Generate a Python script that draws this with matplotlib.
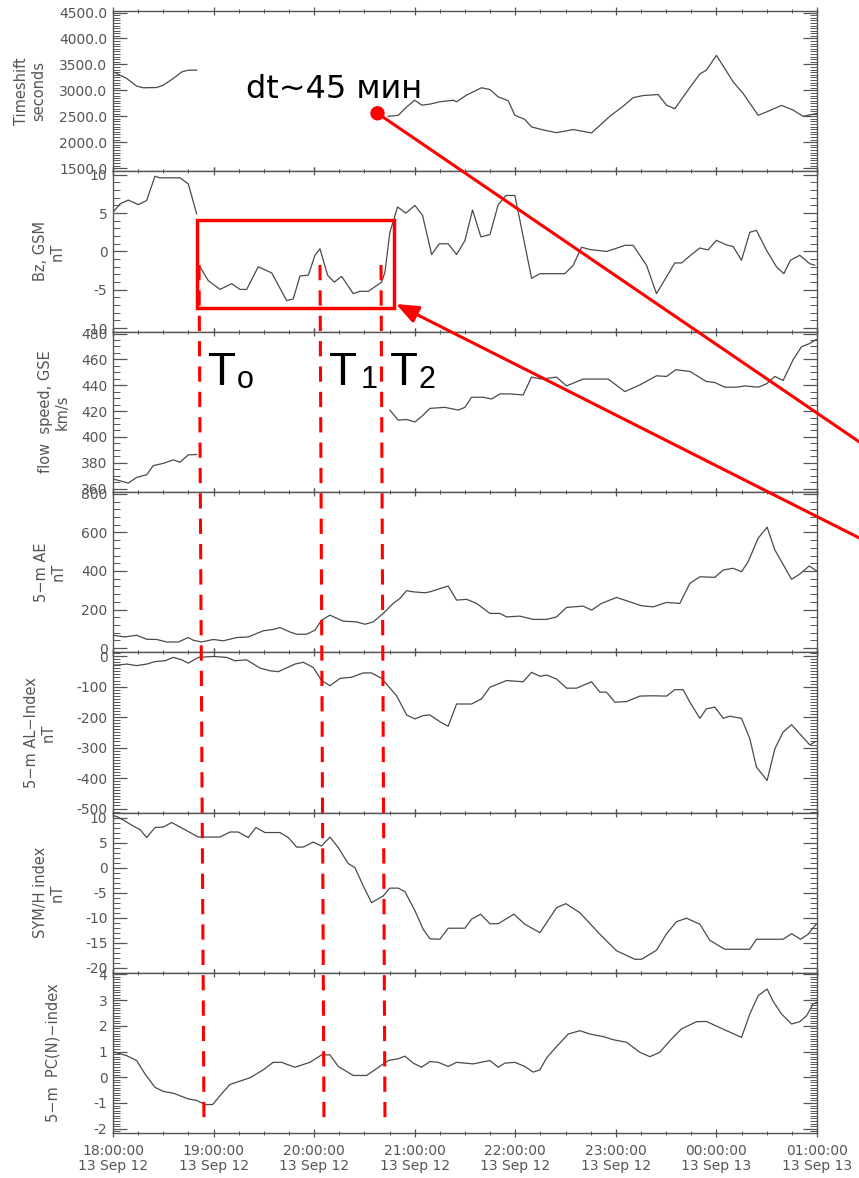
import numpy as np
import matplotlib
matplotlib.use("Agg")
import matplotlib.pyplot as plt
from matplotlib.ticker import MultipleLocator, FormatStrFormatter
from matplotlib.patches import Rectangle, Circle, FancyArrowPatch

nan = np.nan

# ---------------- data (time in hours after 18:00 UT, 13 Sep 2012) ----------------
ts_t = [0.0, 0.136, 0.235, 0.30, 0.434, 0.50, 0.60, 0.683, 0.749, 0.832, 0.84,
        2.737, 2.836, 2.92, 3.0, 3.07, 3.151, 3.25, 3.383, 3.416, 3.516, 3.665, 3.748,
        3.83, 3.93, 3.996, 4.095, 4.162, 4.294, 4.41, 4.576, 4.675, 4.758, 4.94, 5.073,
        5.172, 5.27, 5.42, 5.504, 5.586, 5.736, 5.835, 5.9, 6.0, 6.166, 6.266, 6.415,
        6.498, 6.647, 6.763, 6.862, 6.995]
ts_v = [3360, 3230, 3082, 3050, 3055, 3100, 3230, 3355, 3390, 3390, nan,
        2500, 2520, 2680, 2810, 2715, 2735, 2780, 2810, 2780, 2910, 3050, 3015,
        2875, 2800, 2520, 2440, 2295, 2230, 2185, 2245, 2210, 2180, 2500, 2695,
        2860, 2900, 2920, 2715, 2645, 3055, 3315, 3390, 3675, 3165, 2940, 2520,
        2585, 2710, 2620, 2500, 2555]

bz_t = [0.0, 0.07, 0.152, 0.252, 0.335, 0.417, 0.467, 0.666, 0.749, 0.832, 0.85, 0.865,
        0.947, 1.064, 1.18, 1.262, 1.329, 1.444, 1.578, 1.727, 1.792, 1.859, 1.942,
        2.008, 2.058, 2.134, 2.2, 2.273, 2.389, 2.455, 2.538, 2.671, 2.704, 2.753,
        2.83, 2.912, 3.002, 3.078, 3.168, 3.244, 3.333, 3.416, 3.499, 3.575, 3.658,
        3.748, 3.83, 3.907, 3.996, 4.162, 4.245, 4.493, 4.576, 4.659, 4.742, 4.908,
        4.99, 5.09, 5.172, 5.305, 5.404, 5.586, 5.653, 5.752, 5.835, 5.917, 6.0,
        6.1, 6.166, 6.249, 6.332, 6.398, 6.498, 6.597, 6.67, 6.736, 6.829, 6.928, 6.978]
bz_v = [5.1, 6.2, 6.7, 6.1, 6.65, 9.8, 9.6, 9.6, 8.8, 4.9, nan, -2.0,
        -3.8, -4.95, -4.2, -4.95, -4.95, -2.0, -2.8, -6.4, -6.2, -3.2, -3.1,
        -0.5, 0.35, -3.1, -4.0, -3.25, -5.5, -5.2, -5.2, -4.0, -2.7, 2.5,
        5.8, 5.0, 6.0, 4.7, -0.4, 1.0, 1.0, -0.4, 1.4, 5.4, 1.9,
        2.2, 6.1, 7.3, 7.3, -3.5, -2.9, -2.9, -1.8, 0.55, 0.25, 0.0,
        0.35, 0.8, 0.8, -1.8, -5.5, -1.5, -1.5, -0.4, 0.45, 0.2, 1.45,
        0.85, 0.65, -1.15, 2.5, 2.75, 0.15, -2.0, -2.9, -1.15, -0.5, -1.6, -1.8]

vf_t = [0.0, 0.07, 0.152, 0.235, 0.335, 0.4, 0.5, 0.6, 0.666, 0.749, 0.832, 0.84,
        2.753, 2.836, 2.92, 3.002, 3.084, 3.151, 3.3, 3.432, 3.499, 3.565, 3.68,
        3.764, 3.847, 3.946, 4.078, 4.162, 4.26, 4.41, 4.51, 4.675, 4.923, 5.09,
        5.239, 5.404, 5.504, 5.596, 5.736, 5.9, 5.984, 6.083, 6.2, 6.282, 6.415,
        6.498, 6.581, 6.663, 6.763, 6.846, 6.928, 6.995]
vf_v = [367.4, 366.1, 364.3, 368.7, 370.8, 377.8, 379.6, 382.3, 380.4, 386.2, 386.4, nan,
        420.8, 413.0, 413.5, 411.6, 416.9, 422.1, 422.9, 420.8, 422.9, 430.7, 430.7,
        429.4, 433.3, 433.3, 432.5, 446.3, 444.8, 446.3, 439.5, 444.8, 444.8, 435.1,
        440.3, 447.3, 446.8, 452.0, 450.7, 442.9, 442.1, 438.5, 438.5, 439.5, 438.5,
        441.1, 446.8, 443.7, 459.8, 469.8, 472.3, 475.5]

ae_t = [0.0, 0.119, 0.235, 0.335, 0.434, 0.534, 0.65, 0.749, 0.799, 0.88, 0.997,
        1.096, 1.23, 1.345, 1.494, 1.593, 1.66, 1.759, 1.826, 1.925, 2.008, 2.074,
        2.157, 2.289, 2.422, 2.505, 2.588, 2.687, 2.786, 2.853, 2.92, 2.985, 3.101,
        3.151, 3.333, 3.416, 3.516, 3.615, 3.748, 3.847, 3.913, 4.045, 4.178, 4.311,
        4.41, 4.51, 4.675, 4.758, 4.858, 5.007, 5.139, 5.255, 5.371, 5.504, 5.636,
        5.736, 5.835, 5.984, 6.067, 6.166, 6.249, 6.315, 6.415, 6.504, 6.581, 6.747,
        6.829, 6.922, 6.995]
ae_v = [67, 58, 67, 46, 45, 32, 32, 55, 41, 32, 45,
        38, 55, 58, 90, 97, 107, 84, 72, 72, 93, 145,
        171, 140, 136, 124, 136, 180, 232, 258, 298, 292, 287,
        292, 322, 249, 253, 232, 180, 180, 162, 166, 149, 149,
        162, 211, 218, 197, 232, 263, 240, 220, 214, 237, 232,
        336, 370, 367, 405, 414, 396, 448, 570, 627, 509, 357,
        384, 426, 401]

al_t = [0.0, 0.05, 0.136, 0.235, 0.335, 0.417, 0.517, 0.6, 0.683, 0.749, 0.848,
        0.997, 1.13, 1.213, 1.329, 1.461, 1.561, 1.643, 1.809, 1.892, 1.991, 2.074,
        2.157, 2.257, 2.373, 2.488, 2.571, 2.671, 2.82, 2.92, 3.002, 3.084, 3.151,
        3.25, 3.333, 3.416, 3.565, 3.665, 3.748, 3.913, 4.078, 4.162, 4.245, 4.311,
        4.41, 4.51, 4.61, 4.758, 4.841, 4.907, 4.99, 5.106, 5.239, 5.355, 5.504,
        5.586, 5.669, 5.736, 5.835, 5.9, 5.984, 6.067, 6.133, 6.249, 6.332, 6.398,
        6.504, 6.581, 6.663, 6.747, 6.829, 6.928, 6.978]
al_v = [-29, -29, -26, -31, -26, -18, -15, -4, -12, -23, -4,
        -1, -4, -15, -12, -39, -48, -51, -26, -20, -37, -80,
        -97, -73, -69, -55, -55, -73, -130, -193, -206, -195, -193,
        -215, -230, -157, -157, -140, -102, -80, -84, -53, -66, -62,
        -75, -105, -105, -84, -118, -118, -151, -149, -131, -130, -131,
        -110, -110, -151, -204, -173, -167, -204, -197, -204, -271, -364,
        -408, -304, -249, -225, -255, -291, -282]

sym_t = [0.0, 0.05, 0.119, 0.2, 0.268, 0.335, 0.417, 0.5, 0.583, 0.666, 0.749,
         0.848, 1.064, 1.163, 1.245, 1.345, 1.421, 1.511, 1.66, 1.743, 1.826, 1.892,
         1.991, 2.074, 2.157, 2.24, 2.339, 2.406, 2.488, 2.571, 2.687, 2.753, 2.836,
         2.903, 3.002, 3.084, 3.151, 3.25, 3.333, 3.499, 3.565, 3.655, 3.748, 3.83,
         3.986, 4.095, 4.245, 4.41, 4.503, 4.642, 4.841, 5.007, 5.189, 5.255, 5.404,
         5.504, 5.603, 5.703, 5.835, 5.934, 6.083, 6.332, 6.398, 6.663, 6.747, 6.836,
         6.912, 6.995]
sym_v = [10.4, 10.1, 9.3, 8.3, 7.6, 6.0, 8.0, 8.1, 9.0, 8.1, 7.2,
         6.1, 6.1, 7.1, 7.1, 6.0, 8.0, 7.0, 7.0, 6.0, 4.1, 4.1,
         5.1, 4.3, 6.1, 4.0, 0.8, 0.0, -3.65, -7.0, -5.65, -4.1, -4.1,
         -4.8, -8.6, -12.3, -14.2, -14.3, -12.1, -12.1, -10.3, -9.3, -11.2, -11.2,
         -9.3, -11.3, -13.0, -8.0, -7.2, -9.0, -13.3, -16.6, -18.3, -18.3, -16.5,
         -13.2, -10.8, -10.1, -11.3, -14.5, -16.3, -16.3, -14.3, -14.3, -13.2, -14.3,
         -13.3, -11.2]

pc_t = [0.0, 0.02, 0.136, 0.235, 0.318, 0.417, 0.5, 0.6, 0.749, 0.832, 0.915,
        0.991, 1.08, 1.163, 1.262, 1.362, 1.494, 1.593, 1.676, 1.809, 1.958, 2.074,
        2.157, 2.24, 2.389, 2.521, 2.604, 2.737, 2.836, 2.903, 2.985, 3.068, 3.151,
        3.234, 3.333, 3.416, 3.582, 3.748, 3.83, 3.897, 3.996, 4.095, 4.178, 4.245,
        4.311, 4.41, 4.526, 4.642, 4.742, 4.874, 4.973, 5.106, 5.239, 5.338, 5.437,
        5.537, 5.653, 5.802, 5.9, 6.05, 6.249, 6.332, 6.415, 6.504, 6.564, 6.647,
        6.747, 6.829, 6.896, 6.962, 6.995]
pc_v = [1.0, 0.97, 0.84, 0.65, 0.13, -0.39, -0.55, -0.62, -0.84, -0.90, -1.06,
        -1.06, -0.64, -0.28, -0.15, -0.02, 0.29, 0.58, 0.58, 0.39, 0.58, 0.87,
        0.87, 0.42, 0.07, 0.07, 0.29, 0.65, 0.72, 0.82, 0.55, 0.39, 0.61,
        0.58, 0.42, 0.58, 0.52, 0.65, 0.39, 0.55, 0.58, 0.42, 0.20, 0.29,
        0.75, 1.19, 1.68, 1.81, 1.68, 1.58, 1.46, 1.36, 0.97, 0.80, 0.97,
        1.42, 1.88, 2.16, 2.17, 1.90, 1.55, 2.46, 3.17, 3.43, 2.95, 2.46,
        2.07, 2.16, 2.39, 2.85, 2.91]

ylabels = ["Timeshift\nseconds", "Bz, GSM\nnT", "flow  speed, GSE\nkm/s",
           "5\u2212m AE\nnT", "5\u2212m AL\u2212Index\nnT", "SYM/H index\nnT",
           "5\u2212m  PC(N)\u2212index"]
xtick_labels = ["18:00:00\n13 Sep 12", "19:00:00\n13 Sep 12", "20:00:00\n13 Sep 12",
                "21:00:00\n13 Sep 12", "22:00:00\n13 Sep 12", "23:00:00\n13 Sep 12",
                "00:00:00\n13 Sep 13", "01:00:00\n13 Sep 13"]
annot_text = "dt~45 мин"
t_labels = [("T", "o"), ("T", "1"), ("T", "2")]

# ---------------- layout / style ----------------
W, H = 859, 1178
L, R = 113, 817
TOP0, PH = 11, 160.3
GRAY = "#555555"
LINE = "#4a4a4a"
RED = "#ff0000"

# per panel: ylim, major, minor, format, label right edge (px)
specs = [
    ((1440, 4530), 500, 50, "%.1f", 46),
    ((-10.45, 10.45), 5, 1, "%d", 65),
    ((357.5, 481.5), 20, 5, "%d", 70),
    ((-21, 810), 200, 40, "%d", 66),
    ((-513, 13), 100, 10, "%d", 56),
    ((-21, 11), 5, 1, "%d", 65),
    ((-2.17, 4.06), 1, 0.1, "%d", 60),
]
series = [(ts_t, ts_v), (bz_t, bz_v), (vf_t, vf_v), (ae_t, ae_v),
          (al_t, al_v), (sym_t, sym_v), (pc_t, pc_v)]

fig = plt.figure(figsize=(W / 100, H / 100), dpi=100)

axes = []
for i, ((t, v), (ylim, maj, mnr, fmt, lab_x)) in enumerate(zip(series, specs)):
    bottom = TOP0 + (i + 1) * PH
    ax = fig.add_axes([L / W, 1 - bottom / H, (R - L) / W, PH / H])
    ax.plot(t, v, color=LINE, lw=0.9)
    ax.set_xlim(0, 7)
    ax.set_ylim(*ylim)
    ax.xaxis.set_major_locator(MultipleLocator(1))
    ax.xaxis.set_minor_locator(MultipleLocator(0.25))
    ax.yaxis.set_major_locator(MultipleLocator(maj))
    ax.yaxis.set_minor_locator(MultipleLocator(mnr))
    ax.yaxis.set_major_formatter(FormatStrFormatter(fmt))
    for sp in ax.spines.values():
        sp.set_color(GRAY)
        sp.set_linewidth(1.0)
    ax.tick_params(axis="y", which="both", direction="in", left=True, right=True,
                   colors=GRAY, labelsize=10, pad=4)
    ax.tick_params(axis="y", which="major", length=10, width=0.9)
    ax.tick_params(axis="y", which="minor", length=5, width=0.7)
    ax.tick_params(axis="x", which="both", direction="inout", top=True, bottom=True,
                   colors=GRAY, labelsize=10)
    ax.tick_params(axis="x", which="major", length=6, width=0.9, pad=5)
    ax.tick_params(axis="x", which="minor", length=3.5, width=0.7)
    ax.set_ylabel(ylabels[i], fontsize=10.5, color=GRAY)
    ax.yaxis.set_label_coords((lab_x - L) / (R - L), 0.5)
    if i < len(series) - 1:
        ax.tick_params(axis="x", labelbottom=False)
    else:
        ax.set_xticks(range(len(xtick_labels)))
        ax.set_xticklabels(xtick_labels, linespacing=1.05)
    axes.append(ax)

# ---------------- red annotations (figure pixel coordinates) ----------------
ov = fig.add_axes([0, 0, 1, 1], zorder=10)
ov.set_xlim(0, W)
ov.set_ylim(H, 0)
ov.axis("off")
ov.patch.set_alpha(0)

for (x0, x1) in [(199, 204), (320, 324), (381, 385)]:
    ov.plot([x0, x1], [265, 1126], color=RED, lw=2.2, dashes=(5, 3.3),
            solid_capstyle="butt", dash_capstyle="butt")

ov.add_patch(Rectangle((196.7, 220), 197.3, 88, fill=False, ec=RED, lw=2.5))

ov.add_patch(Circle((377.5, 113.3), 6.5, color=RED))
ov.plot([377.5, 880], [113.3, 113.3 + (880 - 377.5) * 0.682], color=RED, lw=2.2,
        solid_capstyle="butt")

ov.add_patch(FancyArrowPatch((880, 304 + (880 - 396) * 0.505), (396, 304),
                             arrowstyle="-|>,head_length=0.75,head_width=0.3",
                             mutation_scale=18, color=RED, lw=2.2,
                             shrinkA=0, shrinkB=0))

ov.text(246, 98.3, annot_text, fontsize=23, family="DejaVu Sans", color="black",
        ha="left", va="baseline")

for (xT, xs), (big, sub) in zip([(208, 237), (329, 361), (390, 419)], t_labels):
    ov.text(xT, 385, big, fontsize=33, family="Liberation Sans", color="black",
            ha="left", va="baseline")
    ov.text(xs, 388, sub, fontsize=22, family="Liberation Sans", color="black",
            ha="left", va="baseline")

fig.savefig("out.png", dpi=100)
